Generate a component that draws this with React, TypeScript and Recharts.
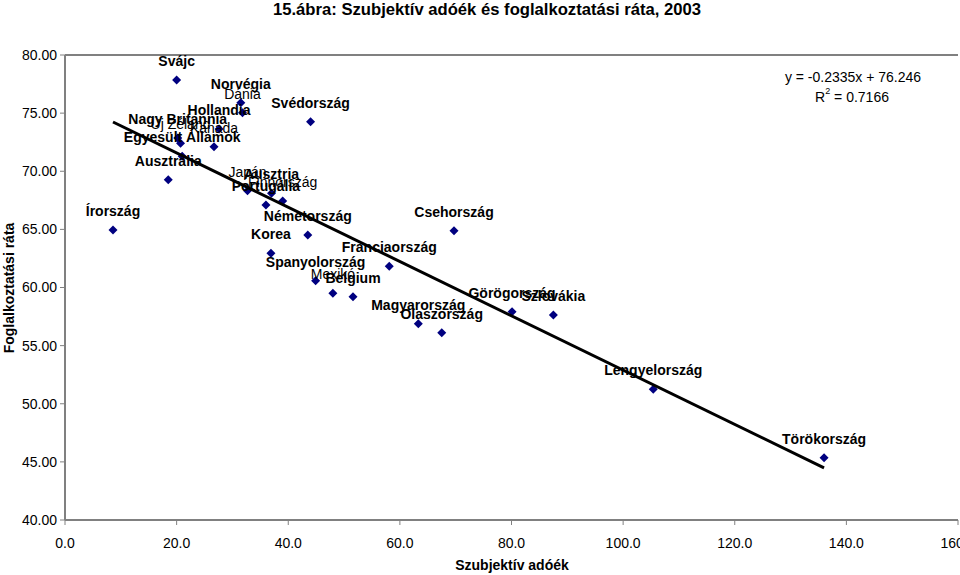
import React from 'react';
import { ScatterChart, Scatter, XAxis, YAxis, ReferenceLine } from 'recharts';

const countries = [
  'Svájc', 'Norvégia', 'Dánia', 'Hollandia', 'Kanada', 'Nagy Britannia', 'Új Zéland',
  'Egyesült Államok', 'Svédország', 'Ausztrália', 'Japán', 'Ausztria', 'Finnország',
  'Portugália', 'Írország', 'Németország', 'Korea', 'Franciaország', 'Csehország',
  'Spanyolország', 'Mexikó', 'Belgium', 'Magyarország', 'Olaszország', 'Görögország',
  'Szlovákia', 'Lengyelország', 'Törökország',
];
const taxWedge = [
  20.0, 31.5, 31.8, 27.6, 26.7, 20.2, 20.7,
  21.0, 44.0, 18.5, 32.7, 37.0, 39.0,
  36.0, 8.6, 43.5, 36.9, 58.1, 69.7,
  44.9, 48.0, 51.6, 63.3, 67.5, 80.1,
  87.5, 105.4, 136.0,
];
const employment = [
  77.85, 75.9, 75.04, 73.63, 72.11, 72.86, 72.4,
  71.3, 74.26, 69.27, 68.33, 68.1, 67.44,
  67.1, 64.95, 64.52, 62.94, 61.82, 64.89,
  60.58, 59.5, 59.21, 56.89, 56.11, 57.92,
  57.63, 51.24, 45.36,
];
const xTicks = [0, 20, 40, 60, 80, 100, 120, 140, 160];
const yTicks = [40, 45, 50, 55, 60, 65, 70, 75, 80];
const trendSlope = -0.2335;
const trendIntercept = 76.246;
const regularLabels = ['Dánia', 'Új Zéland', 'Kanada', 'Japán', 'Finnország', 'Mexikó'];

const titleText = '15.ábra: Szubjektív adóék és foglalkoztatási ráta, 2003';
const xTitle = 'Szubjektív adóék';
const yTitle = 'Foglalkoztatási ráta';
const eqText = 'y = -0.2335x + 76.246';
const r2Value = '0.7166';

const points = countries.map((name, i) => ({ name, x: taxWedge[i], y: employment[i] }));
const xMin = Math.min(...taxWedge);
const xMax = Math.max(...taxWedge);
const trendPoints = [
  { x: xMin, y: trendSlope * xMin + trendIntercept },
  { x: xMax, y: trendSlope * xMax + trendIntercept },
];

const FONT = '"Liberation Sans", Arial, sans-serif';

const Marker = (props: any) => {
  const { cx, cy } = props;
  if (cx == null || cy == null) return <g />;
  const r = 4.5;
  return (
    <polygon
      points={`${cx},${cy - r} ${cx + r},${cy} ${cx},${cy + r} ${cx - r},${cy}`}
      fill="#000080"
    />
  );
};

const PointLabel = (props: any) => {
  const { cx, cy, payload } = props;
  if (cx == null || cy == null || !payload) return <g />;
  const regular = regularLabels.includes(payload.name);
  return (
    <text
      x={cx}
      y={cy - 19}
      textAnchor="middle"
      dominantBaseline="central"
      fontFamily={FONT}
      fontSize={14}
      fontWeight={regular ? 400 : 700}
      fill="#000"
    >
      {payload.name}
    </text>
  );
};

const NoShape = () => <g />;

export default function App() {
  return (
    <div
      style={{
        position: 'absolute',
        left: 0,
        top: 0,
        width: 960,
        height: 575,
        overflow: 'hidden',
        background: '#fff',
        fontFamily: FONT,
      }}
    >
      <ScatterChart
        width={1000}
        height={575}
        margin={{ top: 55, right: 42, bottom: 0, left: 0 }}
      >
        <XAxis
          type="number"
          dataKey="x"
          domain={[0, 160]}
          ticks={xTicks}
          allowDataOverflow
          height={55}
          axisLine={{ stroke: '#808080', strokeWidth: 2 }}
          tickLine={{ stroke: '#808080' }}
          tickSize={5}
          tickMargin={13}
          tick={{ fill: '#000', fontSize: 14, fontFamily: FONT }}
          tickFormatter={(v: number) => v.toFixed(1)}
        />
        <YAxis
          type="number"
          dataKey="y"
          domain={[40, 80]}
          ticks={yTicks}
          allowDataOverflow
          width={65}
          axisLine={{ stroke: '#808080', strokeWidth: 2 }}
          tickLine={{ stroke: '#808080' }}
          tickSize={5}
          tickMargin={3}
          tick={{ fill: '#000', fontSize: 14, fontFamily: FONT }}
          tickFormatter={(v: number) => v.toFixed(2)}
        />
        <ReferenceLine y={80} stroke="#808080" strokeWidth={2} />
        <Scatter data={points} shape={Marker} isAnimationActive={false} legendType="none" />
        <Scatter data={points} shape={PointLabel} isAnimationActive={false} legendType="none" />
        <Scatter
          data={trendPoints}
          shape={NoShape}
          line={{ stroke: '#000', strokeWidth: 3 }}
          isAnimationActive={false}
          legendType="none"
        />
      </ScatterChart>
      <svg
        width={960}
        height={575}
        style={{ position: 'absolute', left: 0, top: 0, pointerEvents: 'none' }}
      >
        <text
          x={487}
          y={9}
          textAnchor="middle"
          dominantBaseline="central"
          fontFamily={FONT}
          fontSize={17}
          fontWeight={700}
          textLength={428}
          lengthAdjust="spacingAndGlyphs"
          fill="#000"
        >
          {titleText}
        </text>
        <text
          x={512}
          y={565}
          textAnchor="middle"
          dominantBaseline="central"
          fontFamily={FONT}
          fontSize={14}
          fontWeight={700}
          fill="#000"
        >
          {xTitle}
        </text>
        <text
          x={9}
          y={288}
          textAnchor="middle"
          dominantBaseline="central"
          fontFamily={FONT}
          fontSize={14}
          fontWeight={700}
          fill="#000"
          transform="rotate(-90 9 288)"
        >
          {yTitle}
        </text>
        <text
          x={853}
          y={77}
          textAnchor="middle"
          dominantBaseline="central"
          fontFamily={FONT}
          fontSize={14}
          fill="#000"
        >
          {eqText}
        </text>
        <text
          x={852}
          y={97}
          textAnchor="middle"
          dominantBaseline="central"
          fontFamily={FONT}
          fontSize={14}
          fill="#000"
        >
          R<tspan fontSize={9} dy={-6}>2</tspan>
          <tspan dy={6}>{` = ${r2Value}`}</tspan>
        </text>
      </svg>
    </div>
  );
}
